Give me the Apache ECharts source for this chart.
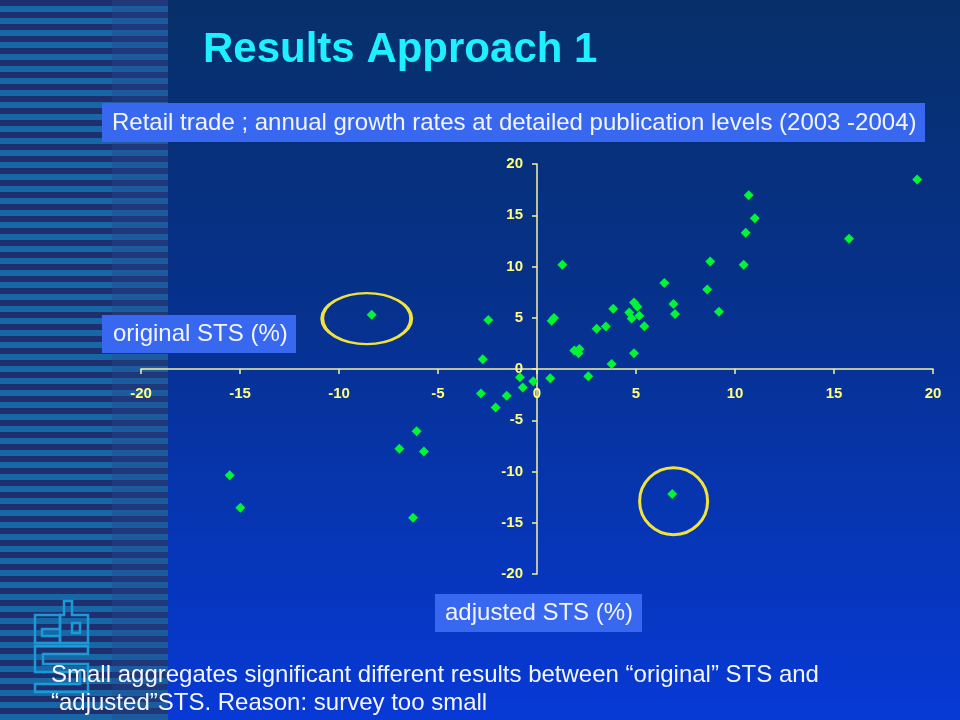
<!DOCTYPE html>
<html>
<head>
<meta charset="utf-8">
<script src="https://cdn.jsdelivr.net/npm/echarts@6/dist/echarts.min.js"></script>
<style>
  html, body { margin:0; padding:0; width:960px; height:720px; overflow:hidden; }
  #bg { position:absolute; left:0; top:0; width:960px; height:720px;
        background: linear-gradient(to bottom, #07306a 0%, #06318a 40%, #0739d6 100%); }
  #stripes { position:absolute; left:0; top:0; width:112px; height:720px;
        background: repeating-linear-gradient(to bottom, #1f2e6c 0px, #1f2e6c 6px, #1767a6 6px, #1767a6 12px); }
  #stripes2 { position:absolute; left:112px; top:0; width:56px; height:720px;
        background: repeating-linear-gradient(to bottom, #20377a 0px, #20377a 6px, #1c5c9e 6px, #1c5c9e 12px); }
  #chart { position:absolute; left:0; top:0; width:960px; height:720px; }
</style>
</head>
<body>
<div id="bg"></div>
<div id="stripes"></div>
<div id="stripes2"></div>
<div id="chart"></div>
<script>
// adjusted STS (%) on x, original STS (%) on y
const adjusted = [-8.35, -2.46, -2.74, -2.83, -2.09, -1.53, -0.86, -0.72, -0.19, 0.67,
  1.28, 0.74, 0.86, 2.59, 1.88, 2.14, 2.10, 3.01, 3.48, 3.85,
  3.77, 19.2, 10.69, 11.0, 10.54, 15.76, 8.75, 10.44, 6.43, 8.6,
  6.89, 6.97, 9.19, 4.9, 5.07, 4.66, 4.78, 5.17, 5.42, 4.9,
  -6.08, -6.95, -5.71, -15.52, -14.98, -6.26, 6.83];
const original = [5.3, 4.77, 0.95, -2.4, -3.75, -2.6, -0.8, -1.8, -1.2, -0.9,
  10.17, 4.7, 4.97, -0.7, 1.8, 1.96, 1.54, 3.92, 4.15, 5.88,
  0.49, 18.5, 16.96, 14.7, 13.3, 12.7, 10.5, 10.17, 8.4, 7.75,
  6.34, 5.36, 5.59, 6.5, 6.08, 5.52, 4.93, 5.2, 4.18, 1.54,
  -6.08, -7.78, -8.04, -10.36, -13.53, -14.5, -12.19];
// highlighted (circled) outliers: [x, y]
const highlights = [[-8.6, 4.92], [6.9, -12.9]];
const highlightSizes = [[89, 51], [68, 67]];
const axisTicks = [-20, -15, -10, -5, 0, 5, 10, 15, 20];

const titleText = 'Results Approach 1';
const subtitleText = 'Retail trade ; annual growth rates at detailed publication levels (2003 -2004)';
const yAxisName = 'original STS (%)';
const xAxisName = 'adjusted STS (%)';
const noteLine1 = 'Small aggregates significant different results between \u201coriginal\u201d STS and';
const noteLine2 = '\u201cadjusted\u201dSTS. Reason: survey too small';

const FONT = '"Liberation Sans", Arial, sans-serif';
const chart = echarts.init(document.getElementById('chart'));

const points = adjusted.map((x, i) => [x, original[i]]);
const logoStroke = '#1b9ad8';

const GRID = { left: 141, right: 27, top: 164, bottom: 146 };
const plotW = 960 - GRID.left - GRID.right;
const plotH = 720 - GRID.top - GRID.bottom;
const xMin = axisTicks[0], xMax = axisTicks[axisTicks.length - 1];
// shift axes so they cross at zero (labels follow the lines)
const xAxisOffset = -plotH * (0 - xMin) / (xMax - xMin);
const yAxisOffset = -plotW * (0 - xMin) / (xMax - xMin);

function poly(pts) {
  return { type: 'polygon', shape: { points: pts }, style: { fill: 'none', stroke: logoStroke, lineWidth: 2.5 }, z: 1 };
}

const axisCommon = {
  type: 'value', min: xMin, max: xMax, interval: 5,
  splitLine: { show: false },
  axisLine: { onZero: false, lineStyle: { color: '#f4f4a0', width: 1.5 } },
  axisTick: { show: true, length: 5, lineStyle: { color: '#f4f4a0', width: 1.5 } },
  axisLabel: { color: '#ffff80', fontFamily: FONT, fontWeight: 'bold', fontSize: 15 }
};

chart.setOption({
  backgroundColor: 'transparent',
  animation: false,
  grid: Object.assign({ containLabel: false, outerBoundsMode: 'none' }, GRID),
  xAxis: Object.assign({}, axisCommon, { position: 'bottom', offset: xAxisOffset,
    axisLabel: Object.assign({}, axisCommon.axisLabel, { margin: 17 }) }),
  yAxis: Object.assign({}, axisCommon, { position: 'left', offset: yAxisOffset,
    axisLabel: Object.assign({}, axisCommon.axisLabel, { margin: 14 }) }),
  series: [
    {
      type: 'scatter', data: points, symbol: 'diamond', symbolSize: 10,
      itemStyle: { color: '#00f532', opacity: 1 }, z: 3
    },
    {
      type: 'scatter',
      data: highlights.map((p, i) => ({ value: p, symbolSize: highlightSizes[i] })),
      symbol: 'circle', silent: true,
      itemStyle: { color: 'rgba(0,0,0,0)', borderColor: '#f2e33a', borderWidth: 3, opacity: 1 },
      z: 2
    }
  ],
  graphic: [
    { type: 'text', x: 203, y: 50, z: 10,
      style: { text: titleText, font: 'bold 42px ' + FONT, fill: '#1ff0ff', align: 'left', verticalAlign: 'middle' } },
    { type: 'rect', shape: { x: 102, y: 103, width: 823, height: 39 }, style: { fill: '#3868f0' }, z: 9 },
    { type: 'text', x: 112, y: 123, z: 10,
      style: { text: subtitleText, font: '24px ' + FONT, fill: '#f2f4ff', align: 'left', verticalAlign: 'middle' } },
    { type: 'rect', shape: { x: 102, y: 315, width: 194, height: 38 }, style: { fill: '#3868f0' }, z: 9 },
    { type: 'text', x: 113, y: 334, z: 10,
      style: { text: yAxisName, font: '24px ' + FONT, fill: '#f2f4ff', align: 'left', verticalAlign: 'middle' } },
    { type: 'rect', shape: { x: 435, y: 594, width: 207, height: 38 }, style: { fill: '#3868f0' }, z: 9 },
    { type: 'text', x: 445, y: 613, z: 10,
      style: { text: xAxisName, font: '24px ' + FONT, fill: '#f2f4ff', align: 'left', verticalAlign: 'middle' } },
    { type: 'text', x: 51, y: 675, z: 10,
      style: { text: noteLine1, font: '24px ' + FONT, fill: '#f4f6ff', align: 'left', verticalAlign: 'middle' } },
    { type: 'text', x: 51, y: 703, z: 10,
      style: { text: noteLine2, font: '24px ' + FONT, fill: '#f4f6ff', align: 'left', verticalAlign: 'middle' } },
    poly([[35,615],[60,615],[60,629],[42,629],[42,636],[60,636],[60,643],[35,643]]),
    poly([[64,601],[72,601],[72,615],[88,615],[88,643],[60,643],[60,615],[64,615]]),
    poly([[72,623],[80,623],[80,633],[72,633]]),
    poly([[35,646],[88,646],[88,654],[43,654],[43,664],[88,664],[88,692],[35,692],[35,684],[80,684],[80,672],[35,672]])
  ]
});
</script>
</body>
</html>
